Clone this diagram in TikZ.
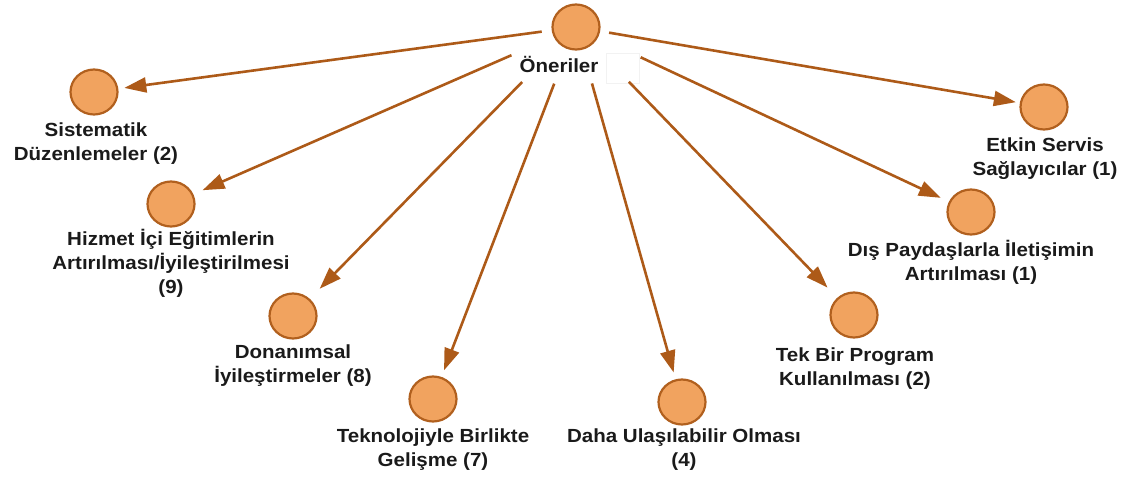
\documentclass[tikz,border=0pt]{standalone}
\usepackage{fontspec}
\usetikzlibrary{arrows.meta,shapes.geometric}
\newfontfamily\labfont[FakeStretch=1.08]{Liberation Sans}
\definecolor{orgfill}{HTML}{F1A35F}
\definecolor{orgdraw}{HTML}{B1601E}
\definecolor{arrowc}{HTML}{AD5A18}
\definecolor{txt}{HTML}{1A1A1A}
\newcommand{\lbl}[1]{\begin{tabular}[t]{@{}c@{}}#1\end{tabular}}
\tikzset{
  dot/.style={ellipse, draw=orgdraw, fill=orgfill, line width=2.2pt, minimum width=47pt, minimum height=45pt, inner sep=0pt},
  lab/.style={inner sep=0pt, anchor=base, text=txt, font=\labfont\bfseries\fontsize{19}{24}\selectfont},
  edge/.style={draw=arrowc, line width=2.6pt, -{Triangle[length=22pt,width=15pt]}},
  faintbox/.style={draw=black!5, line width=0.5pt, minimum width=33pt, minimum height=30pt, inner sep=0pt}
}
\begin{document}
\begin{tikzpicture}[x=1pt,y=-1pt]
\useasboundingbox (0,0) rectangle (1124,479);
% hub
\node[dot] (o) at (576,27) {};
\node[lab] (ol) at (559,72) {\lbl{Öneriler}};
\node[faintbox] (blank) at (622.5,68) {};
% leaves
\node[dot] (s) at (94,92) {};
\node[lab] (sl) at (96,136) {\lbl{Sistematik\\Düzenlemeler (2)}};
\node[dot] (h) at (171,204) {};
\node[lab] (hl) at (171,245) {\lbl{Hizmet İçi Eğitimlerin\\Artırılması/İyileştirilmesi\\(9)}};
\node[dot] (d) at (293,316) {};
\node[lab] (dl) at (293,358) {\lbl{Donanımsal\\İyileştirmeler (8)}};
\node[dot] (k) at (433,399) {};
\node[lab] (kl) at (433,442) {\lbl{Teknolojiyle Birlikte\\Gelişme (7)}};
\node[dot] (a) at (682,402) {};
\node[lab] (al) at (684,442) {\lbl{Daha Ulaşılabilir Olması\\(4)}};
\node[dot] (t) at (854,315) {};
\node[lab] (tl) at (855,361) {\lbl{Tek Bir Program\\Kullanılması (2)}};
\node[dot] (p) at (971,212) {};
\node[lab] (pl) at (971,256) {\lbl{Dış Paydaşlarla İletişimin\\Artırılması (1)}};
\node[dot] (e) at (1044,107) {};
\node[lab] (el) at (1045,151) {\lbl{Etkin Servis\\Sağlayıcılar (1)}};
% edges
\draw[edge, shorten <=10pt, shorten >=6pt] (o) -- (s);
\draw[edge, shorten <=46pt, shorten >=10pt] (o) -- (h);
\draw[edge, shorten <=53pt, shorten >=14pt] (o) -- (d);
\draw[edge, shorten <=37pt, shorten >=7pt] (o) -- (k);
\draw[edge, shorten <=35pt, shorten >=7pt] (o) -- (a);
\draw[edge, shorten <=52pt, shorten >=14pt] (o) -- (t);
\draw[edge, shorten <=47pt, shorten >=9pt] (o) -- (p);
\draw[edge, shorten <=9pt, shorten >=4pt] (o) -- (e);
\end{tikzpicture}
\end{document}
